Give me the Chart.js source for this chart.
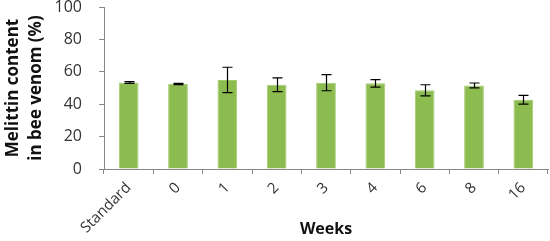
<!DOCTYPE html>
<html>
<head>
<meta charset="utf-8">
<script src="https://cdn.jsdelivr.net/npm/chart.js@4"></script>
<style>
  html, body { margin: 0; padding: 0; background: #fff; }
  #wrap { width: 550px; height: 241px; }
</style>
</head>
<body>
<div id="wrap"><canvas id="chart"></canvas></div>
<script>
// ---------------- DATA ----------------
const weeks = ["Standard", "0", "1", "2", "3", "4", "6", "8", "16"];
const melittin = [53.4, 52.5, 55.0, 52.0, 53.3, 52.9, 48.6, 51.6, 42.8];
const errors = [0.5, 0.4, 7.8, 4.2, 5.0, 2.3, 3.4, 1.5, 2.7];
const yTicks = [0, 20, 40, 60, 80, 100];

// error bars drawn through the y scale
const errorBars = {
  id: "errorBars",
  afterDatasetsDraw(chart) {
    const ctx = chart.ctx;
    const y = chart.scales.y;
    const meta = chart.getDatasetMeta(0);
    ctx.save();
    ctx.strokeStyle = "#000";
    ctx.lineWidth = 1.2;
    meta.data.forEach((bar, i) => {
      const x = Math.round(bar.x) + 0.5;
      const top = y.getPixelForValue(melittin[i] + errors[i]);
      const bot = y.getPixelForValue(melittin[i] - errors[i]);
      ctx.beginPath();
      ctx.moveTo(x, top); ctx.lineTo(x, bot);
      ctx.moveTo(x - 5, top); ctx.lineTo(x + 5, top);
      ctx.moveTo(x - 5, bot); ctx.lineTo(x + 5, bot);
      ctx.stroke();
    });
    ctx.restore();
  }
};

new Chart(document.getElementById("chart"), {
  type: "bar",
  data: {
    labels: weeks,
    datasets: [{
      data: melittin,
      backgroundColor: "#8cbb4f",
      borderColor: "#a4cc72",
      borderWidth: 1,
      categoryPercentage: 1,
      barPercentage: 0.4
    }]
  },
  options: {
    responsive: true,
    maintainAspectRatio: false,
    animation: false,
    layout: { padding: { top: 0, right: 2, left: 2, bottom: 0 } },
    plugins: { legend: { display: false }, tooltip: { enabled: false } },
    scales: {
      x: {
        afterFit: s => { s.height = 72; s.paddingLeft = 0; s.paddingRight = 0; },
        grid: { display: true, drawOnChartArea: false, offset: true, color: "#888", tickLength: 5 },
        border: { color: "#888" },
        ticks: {
          color: "#333", maxRotation: 45, minRotation: 45, padding: 5,
          font: { family: "Open Sans", size: 15 }
        },
        title: {
          display: true, text: "Weeks", color: "#111", padding: { top: 0, bottom: 2 },
          font: { family: "Open Sans", size: 16, weight: "bold" }
        }
      },
      y: {
        min: 0, max: 100,
        afterBuildTicks: scale => { scale.ticks = yTicks.map(v => ({ value: v })); },
        afterFit: s => { s.width = 102; s.paddingTop = 7; },
        grid: { display: true, drawOnChartArea: false, color: "#888", tickLength: 5 },
        border: { color: "#888" },
        ticks: { color: "#333", padding: 17, font: { family: "Open Sans", size: 16 } },
        title: {
          display: true, text: ["Melittin content", "in bee venom (%)"], color: "#111",
          padding: { top: 0, bottom: 8 },
          font: { family: "Open Sans", size: 17, weight: "bold", lineHeight: 1.35 }
        }
      }
    }
  },
  plugins: [errorBars]
});
</script>
</body>
</html>
